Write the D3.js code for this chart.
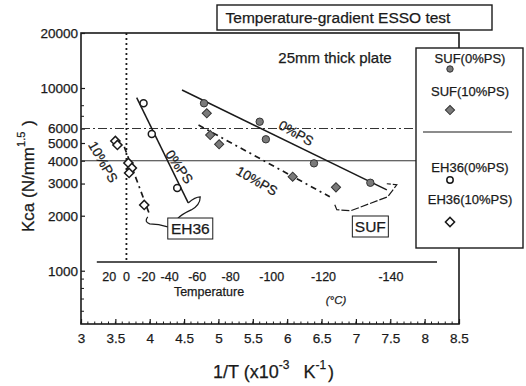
<!DOCTYPE html>
<html>
<head>
<meta charset="utf-8">
<script src="https://cdn.jsdelivr.net/npm/d3@7"></script>
<style>
  body { margin: 0; background: #fff; }
  svg { display: block; font-family: "Liberation Sans", Arial, Helvetica, sans-serif; }
  svg text { stroke: #1a1a1a; stroke-width: 0.25px; }
</style>
</head>
<body>
<svg id="chart" width="526" height="386"></svg>
<script>
// values (x = 1/T in 1e-3 K^-1, y = Kca)
const xTickValues = [3, 3.5, 4, 4.5, 5, 5.5, 6, 6.5, 7, 7.5, 8, 8.5];
const yTickValues = [1000, 2000, 3000, 4000, 5000, 6000, 10000, 20000];
const yMinorValues = [600, 700, 800, 900, 7000, 8000];
const tempTickValues = [20, 0, -20, -40, -60, -80, -100, -120, -140];
const refLevels = [6000, 4000];

const sufZero = [[4.79, 8250], [5.60, 6540], [5.69, 5240], [6.39, 3870], [7.21, 3030]];
const sufTen = [[4.83, 7270], [4.88, 5530], [5.01, 4920], [6.08, 3270], [6.71, 2860]];
const ehZero = [[3.91, 8250], [4.03, 5600], [4.40, 2840]];
const ehTen = [[3.50, 5130], [3.53, 4880], [3.69, 3890], [3.74, 3650], [3.70, 3430], [3.92, 2290]];

// fitted lines (end points)
const sufZeroLine = [[4.47, 9750], [7.45, 2770]];
const sufTenLine = [[4.71, 6270], [6.62, 2540]];
const ehZeroLine = [[3.81, 8850], [4.56, 2350]];
const ehTenLine = [[3.63, 4760], [4.00, 2020]];

// rotated line labels: [x, y, angle, text]
const lineLabels = [
  [3.32, 3940, 60, "10%PS"],
  [4.43, 3700, 55, "0%PS"],
  [6.13, 5670, 29, "0%PS"],
  [5.56, 3100, 30, "10%PS"]
];

const width = 526, height = 386;
const margin = { top: 33, right: 67, bottom: 62, left: 81 };

const svg = d3.select("#chart");

const x = d3.scaleLinear()
  .domain([3, 8.5])
  .range([margin.left, width - margin.right]);

const y = d3.scaleLog()
  .domain([511, 20000])
  .range([height - margin.bottom, margin.top]);

const tempX = t => x(1000 / (t + 273.15));
const ink = "#1a1a1a";

// frame
svg.append("rect")
  .attr("x", margin.left).attr("y", margin.top)
  .attr("width", width - margin.left - margin.right)
  .attr("height", height - margin.top - margin.bottom)
  .attr("fill", "none").attr("stroke", ink).attr("stroke-width", 1.6);

// bottom axis, ticks pointing in
const xAxis = svg.append("g")
  .attr("transform", `translate(0,${height - margin.bottom})`)
  .call(d3.axisBottom(x).tickValues(xTickValues).tickSize(-5).tickPadding(9).tickFormat(d3.format("")));
xAxis.append("g").selectAll("line")
  .data(d3.range(30, 86).map(d => d / 10))
  .join("line")
  .attr("x1", d => x(d)).attr("x2", d => x(d))
  .attr("y1", 0).attr("y2", -2.5)
  .attr("stroke", ink);

const yAxis = svg.append("g")
  .attr("transform", `translate(${margin.left},0)`)
  .call(d3.axisLeft(y).tickValues(yTickValues).tickSize(-4).tickPadding(3).tickFormat(d3.format("d")));
yAxis.append("g").selectAll("line")
  .data(yMinorValues)
  .join("line")
  .attr("x1", 0).attr("x2", 3)
  .attr("y1", d => y(d)).attr("y2", d => y(d))
  .attr("stroke", ink);

[xAxis, yAxis].forEach(g => {
  g.select(".domain").remove();
  g.selectAll(".tick line").attr("stroke", ink).attr("stroke-width", 1.2);
  g.selectAll(".tick text").attr("fill", ink).attr("font-size", 13.5)
    .attr("font-family", "\"Liberation Sans\", Arial, sans-serif");
});

// reference levels
svg.append("g").selectAll("line")
  .data(refLevels)
  .join("line")
  .attr("x1", margin.left).attr("x2", width - margin.right)
  .attr("y1", d => y(d)).attr("y2", d => y(d))
  .attr("stroke", "#333").attr("stroke-width", 1.1)
  .attr("stroke-dasharray", (d, i) => i === 0 ? "9,3,2,3" : null);

// temperature scale drawn inside the plot
const tempY = 262;
svg.append("line")
  .attr("x1", x(3.23)).attr("x2", x(8.18))
  .attr("y1", tempY).attr("y2", tempY)
  .attr("stroke", ink).attr("stroke-width", 1.4);
svg.append("g").selectAll("text")
  .data(tempTickValues)
  .join("text")
  .attr("x", d => tempX(d))
  .attr("y", tempY + 19)
  .attr("text-anchor", "middle")
  .attr("font-size", 12.5).attr("fill", ink)
  .text(d => d);
svg.append("text")
  .attr("x", 209).attr("y", tempY + 34)
  .attr("text-anchor", "middle").attr("font-size", 12.5).attr("fill", ink)
  .text("Temperature");
svg.append("text")
  .attr("x", 336).attr("y", tempY + 42)
  .attr("text-anchor", "middle").attr("font-size", 11.5).attr("font-style", "italic").attr("fill", ink)
  .text("(°C)");

// 0 degC marker
svg.append("line")
  .attr("x1", tempX(0)).attr("x2", tempX(0))
  .attr("y1", margin.top).attr("y2", tempY)
  .attr("stroke", ink).attr("stroke-width", 1.8)
  .attr("stroke-dasharray", "2,3");

// fitted lines
const line = d3.line().x(d => x(d[0])).y(d => y(d[1]));
[[sufZeroLine, null], [sufTenLine, "6,4,2,4"], [ehZeroLine, null], [ehTenLine, "6,4,2,4"]]
  .forEach(([pts, dash]) => {
    svg.append("path")
      .attr("d", line(pts))
      .attr("fill", "none")
      .attr("stroke", ink).attr("stroke-width", dash ? 1.7 : 1.5)
      .attr("stroke-dasharray", dash);
  });

// connectors to the material boxes
const ehEnd0 = [x(ehZeroLine[1][0]), y(ehZeroLine[1][1])];
const ehEnd1 = [x(ehTenLine[1][0]), y(ehTenLine[1][1])];
const sufEnd1 = [x(sufTenLine[1][0]), y(sufTenLine[1][1])];

svg.append("path")
  .attr("d", `M${ehEnd0[0]},${ehEnd0[1]} q7,-6 12,-6 q0,8 -9,13 q-9,4 -14,9`)
  .attr("fill", "none").attr("stroke", ink).attr("stroke-width", 1.2);
svg.append("path")
  .attr("d", `M${ehEnd1[0] - 2},${ehEnd1[1] + 2} q-4,5 2,7 q9,0 18,3`)
  .attr("fill", "none").attr("stroke", ink).attr("stroke-width", 1.2);
svg.append("path")
  .attr("d", `M${sufEnd1[0] + 5},${sufEnd1[1] + 8} l2,5 l14,1 l37,-14 l9,-12 l-10,-1`)
  .attr("fill", "none").attr("stroke", ink).attr("stroke-width", 1.2)
  .attr("stroke-dasharray", "8,2");

// boxed material labels
[[4.59, 1713, "EH36"], [7.21, 1757, "SUF"]].forEach(([bx, by, t]) => {
  const g = svg.append("g").attr("transform", `translate(${x(bx)},${y(by)})`);
  const w = t.length * 9 + 9;
  g.append("rect")
    .attr("x", -w / 2).attr("y", -10).attr("width", w).attr("height", 21)
    .attr("fill", "#fff").attr("stroke", ink).attr("stroke-width", 1);
  g.append("text")
    .attr("text-anchor", "middle").attr("y", 6)
    .attr("font-size", 15.5).attr("fill", ink).text(t);
});

// line labels
svg.append("g").selectAll("text")
  .data(lineLabels)
  .join("text")
  .attr("transform", d => `translate(${x(d[0])},${y(d[1])}) rotate(${d[2]})`)
  .attr("text-anchor", "middle").attr("dy", "0.35em")
  .attr("font-size", 13.5).attr("fill", ink)
  .text(d => d[3]);

// markers
const diamond = d3.symbol().type(d3.symbolSquare).size(42);
const greyFill = "#7a7a7a";

svg.append("g").selectAll("circle")
  .data(sufZero).join("circle")
  .attr("cx", d => x(d[0])).attr("cy", d => y(d[1])).attr("r", 3.7)
  .attr("fill", greyFill).attr("stroke", "#333").attr("stroke-width", 1);

svg.append("g").selectAll("path")
  .data(sufTen).join("path")
  .attr("d", diamond)
  .attr("transform", d => `translate(${x(d[0])},${y(d[1])}) rotate(45)`)
  .attr("fill", greyFill).attr("stroke", "#333").attr("stroke-width", 1);

svg.append("g").selectAll("circle")
  .data(ehZero).join("circle")
  .attr("cx", d => x(d[0])).attr("cy", d => y(d[1])).attr("r", 3.5)
  .attr("fill", "#fff").attr("stroke", ink).attr("stroke-width", 1.5);

svg.append("g").selectAll("path")
  .data(ehTen).join("path")
  .attr("d", diamond)
  .attr("transform", d => `translate(${x(d[0])},${y(d[1])}) rotate(45)`)
  .attr("fill", "#fff").attr("stroke", ink).attr("stroke-width", 1.5);

// plate note
svg.append("text")
  .attr("x", 335).attr("y", 63)
  .attr("text-anchor", "middle").attr("font-size", 15).attr("fill", ink)
  .text("25mm thick plate");

// legend
const lg = svg.append("g");
lg.append("rect")
  .attr("x", 416).attr("y", 48).attr("width", 107).attr("height", 200)
  .attr("fill", "#fff").attr("stroke", ink).attr("stroke-width", 1.4);
const legendItems = [
  { label: "SUF(0%PS)", ty: 63, my: 69, kind: "circle", fill: greyFill },
  { label: "SUF(10%PS)", ty: 96, my: 110, kind: "diamond", fill: greyFill },
  { label: "EH36(0%PS)", ty: 172, my: 180, kind: "circle", fill: "#fff" },
  { label: "EH36(10%PS)", ty: 204, my: 222, kind: "diamond", fill: "#fff" }
];
legendItems.forEach(it => {
  lg.append("text")
    .attr("x", 470).attr("y", it.ty)
    .attr("text-anchor", "middle").attr("font-size", 13).attr("fill", ink)
    .text(it.label);
  if (it.kind === "circle") {
    lg.append("circle").attr("cx", 450).attr("cy", it.my).attr("r", 3.2)
      .attr("fill", it.fill).attr("stroke", it.fill === "#fff" ? ink : "#333")
      .attr("stroke-width", it.fill === "#fff" ? 1.5 : 1);
  } else {
    lg.append("path").attr("d", diamond)
      .attr("transform", `translate(450,${it.my}) rotate(45)`)
      .attr("fill", it.fill).attr("stroke", it.fill === "#fff" ? ink : "#333")
      .attr("stroke-width", it.fill === "#fff" ? 1.5 : 1);
  }
});
lg.append("line")
  .attr("x1", 423).attr("x2", 512).attr("y1", 132).attr("y2", 132)
  .attr("stroke", ink).attr("stroke-width", 1.2);

// title box
svg.append("rect")
  .attr("x", 217).attr("y", 5).attr("width", 275).attr("height", 25)
  .attr("fill", "#fff").attr("stroke", ink).attr("stroke-width", 1.4);
svg.append("text")
  .attr("x", 338).attr("y", 23)
  .attr("text-anchor", "middle").attr("font-size", 15.5).attr("fill", ink)
  .text("Temperature-gradient ESSO test");

// axis titles
const xt = svg.append("text")
  .attr("x", 213).attr("y", 378)
  .attr("font-size", 18).attr("fill", ink);
xt.append("tspan").text("1/T (x10");
xt.append("tspan").attr("dy", -9).attr("font-size", 12).text("-3");
xt.append("tspan").attr("dy", 9).attr("dx", 14).text("K");
xt.append("tspan").attr("dy", -9).attr("font-size", 12).text("-1");
xt.append("tspan").attr("dy", 9).attr("dx", 2).text(")");

const yt = svg.append("text")
  .attr("transform", "translate(34,176) rotate(-90)")
  .attr("text-anchor", "middle")
  .attr("font-size", 17).attr("fill", ink);
yt.append("tspan").text("Kca  (N/mm");
yt.append("tspan").attr("dy", -9).attr("font-size", 11).text("1.5");
yt.append("tspan").attr("dy", 9).attr("dx", 6).text(")");
</script>
</body>
</html>
